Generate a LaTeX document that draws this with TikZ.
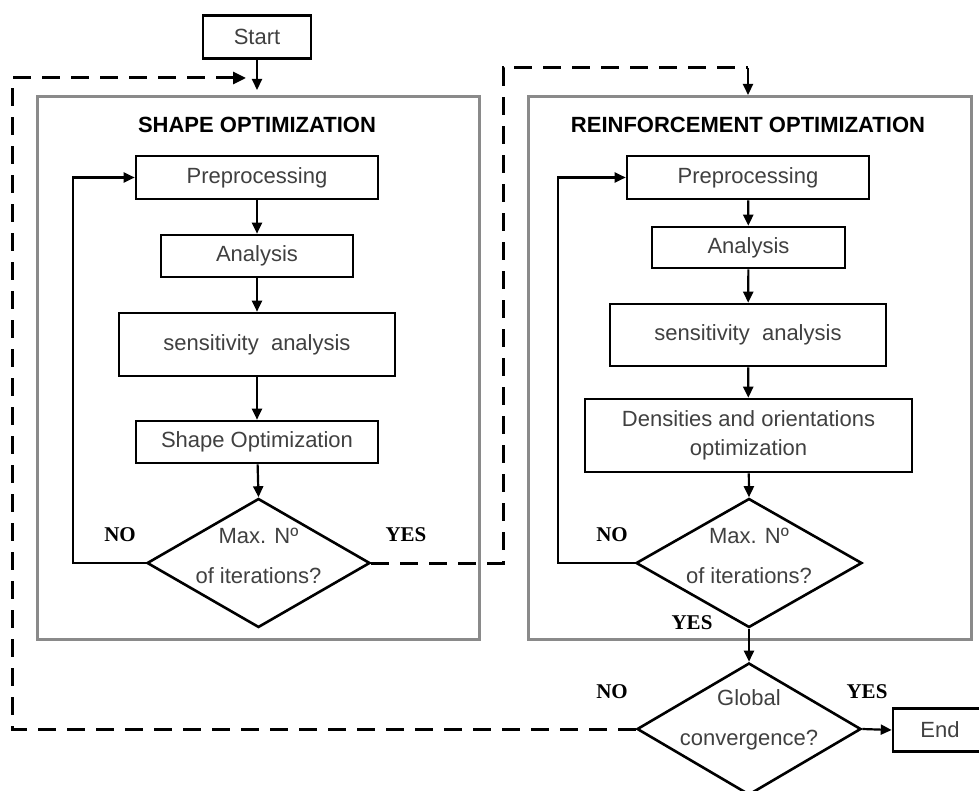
\documentclass[tikz,border=0pt]{standalone}
\usepackage{fontspec}
\setmainfont{Liberation Sans}
\newfontfamily\labelfont{Liberation Serif}
\usetikzlibrary{shapes.geometric,arrows.meta}
\definecolor{txt}{HTML}{404040}
\definecolor{frame}{HTML}{8A8A8A}
\begin{document}
\begin{tikzpicture}[x=1pt,y=-1pt,
  box/.style={draw, line width=2.6pt, inner sep=0pt, text=txt, align=center,
    font=\fontsize{22}{40}\selectfont},
  dec/.style={draw, diamond, line width=2.6pt, inner sep=0pt},
  qtext/.style={text=txt, font=\fontsize{22}{40}\selectfont, align=center, inner sep=0pt},
  container/.style={draw=frame, line width=3pt, inner sep=0pt},
  title/.style={font=\bfseries\fontsize{22}{24}\selectfont, inner sep=0pt},
  yn/.style={font=\labelfont\bfseries\fontsize{21}{22}\selectfont, inner sep=0pt},
  arr/.style={line width=2.2pt, -{Triangle[length=11pt,width=10pt]}},
  dsh/.style={line width=3pt, dash pattern=on 18pt off 11pt},
  dsharr/.style={dsh, -{Triangle[length=13pt,width=12pt]}}
]
\useasboundingbox[fill=white] (0,0) rectangle (979,791);

% containers
\node[container, minimum width=442, minimum height=542] (c1) at (258,368) {};
\node[container, minimum width=443, minimum height=542] (c2) at (749.5,368) {};
\node[title] (t1) at (257,125) {SHAPE OPTIMIZATION};
\node[title] (t2) at (748,125) {REINFORCEMENT OPTIMIZATION};

% start / end
\node[box, minimum width=108, minimum height=43] (start) at (257,37) {Start};
\node[box, minimum width=94, minimum height=43] (end) at (940,730) {End};

% left column
\node[box, minimum width=242, minimum height=43] (pre1) at (257,177.5) {Preprocessing};
\node[box, minimum width=192, minimum height=42] (ana1) at (257,256) {Analysis};
\node[box, minimum width=276, minimum height=63] (sen1) at (257,344.5) {sensitivity\ \ analysis};
\node[box, minimum width=242, minimum height=42] (sho1) at (257,442) {Shape Optimization};
\node[dec, minimum width=223, minimum height=129] (dia1) at (258.5,563) {};
\node[qtext] (q1) at (258.5,556) {Max. Nº\\of iterations?};

% right column
\node[box, minimum width=242, minimum height=43] (pre2) at (748,177.5) {Preprocessing};
\node[box, minimum width=193, minimum height=41] (ana2) at (748.5,247.5) {Analysis};
\node[box, minimum width=276, minimum height=62] (sen2) at (748,335) {sensitivity\ \ analysis};
\node[box, minimum width=327, minimum height=73, font=\fontsize{22}{29}\selectfont] (den2) at (748.5,435.5) {Densities and orientations\\optimization};
\node[dec, minimum width=226, minimum height=129] (dia2) at (749,563) {};
\node[qtext] (q2) at (749,556) {Max. Nº\\of iterations?};

\node[dec, minimum width=224, minimum height=132] (glob) at (749,729) {};
\node[qtext] (q3) at (749,720) {Global\\convergence?};

% labels
\node[yn] (no1) at (120,535) {NO};
\node[yn] (yes1) at (406,535) {YES};
\node[yn] (no2) at (612,535) {NO};
\node[yn] (yes2) at (692,623) {YES};
\node[yn] (no3) at (612,692) {NO};
\node[yn] (yes3) at (867,692) {YES};

% coordinates
\coordinate (sarr) at (257,90);
\coordinate (l1) at (73,563);
\coordinate (l2) at (558,563);
\coordinate (g1) at (12,729);
\coordinate (g2) at (12,78);
\coordinate (g3) at (246,78);
\coordinate (y1) at (503,563);
\coordinate (y2) at (503,68);
\coordinate (y3) at (748,68);
\coordinate (y4) at (748,95);

% solid arrows
\draw[arr] (start.south) -- (sarr);
\draw[arr] (pre1) -- (ana1);
\draw[arr] (ana1) -- (sen1);
\draw[arr] (sen1) -- (sho1);
\draw[arr] (sho1) -- (dia1.north);
\draw[arr] (dia1.west) -- (l1) |- (pre1.west);
\draw[arr] (pre2) -- (ana2);
\draw[arr] (ana2) -- (sen2);
\draw[arr] (sen2) -- (den2);
\draw[arr] (den2) -- (dia2.north);
\draw[arr] (dia2.west) -- (l2) |- (pre2.west);
\draw[arr] (dia2.south) -- (glob.north);
\draw[arr] (glob.east) -- (end.west);

% dashed arrows
\draw[dsharr] (glob.west) -- (g1) -- (g2) -- (g3);
\draw[dsh] (dia1.east) -- (y1) -- (y2) -- (y3);
\draw[arr] (y3) -- (y4);
\end{tikzpicture}
\end{document}
